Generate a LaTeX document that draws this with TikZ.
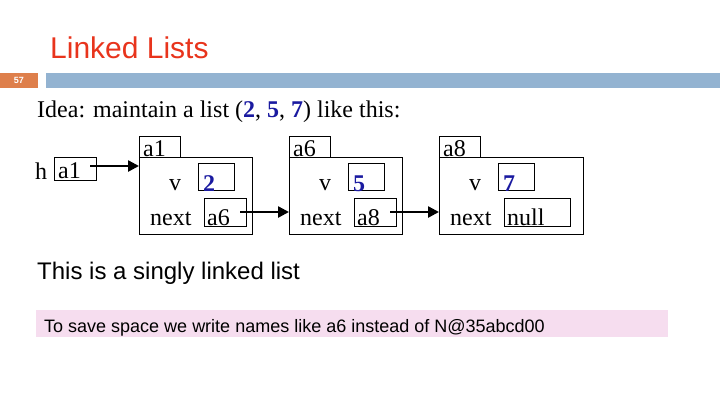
\documentclass[tikz,border=0pt]{standalone}
\usepackage{fontspec}
\setmainfont{Liberation Serif}
\setsansfont{Liberation Sans}
\usetikzlibrary{arrows.meta}
\definecolor{hdr}{HTML}{E8341C}
\definecolor{orng}{HTML}{DE7F4B}
\definecolor{bar}{HTML}{93B3D1}
\definecolor{pnk}{HTML}{F6DDEF}
\definecolor{numb}{HTML}{1A1AA0}
\tikzset{x=1pt,y=-1pt,
 lab/.style={font=\fontsize{24}{24}\selectfont,inner sep=0pt},
 num/.style={font=\fontsize{24}{24}\selectfont\bfseries,text=numb,inner sep=0pt},
 ptr/.style={line width=2.5pt,-{Triangle[length=11pt,width=11pt]}}}
\begin{document}
\begin{tikzpicture}
\useasboundingbox (0,0) rectangle (720,405);
\node[font=\sffamily\fontsize{30}{30}\selectfont,text=hdr,anchor=base west,inner sep=0pt] (title) at (50,58) {Linked Lists};
\fill[orng] (0,73) rectangle (38,88);
\node[font=\sffamily\bfseries\fontsize{9}{9}\selectfont,text=white] (pg) at (19,80.5) {57};
\fill[bar] (46,73) rectangle (720,88);
\node[font=\fontsize{24}{24}\selectfont,anchor=base west,inner sep=0pt] (idea) at (37,117) {Idea: maintain a list (\textcolor{numb}{\textbf{2}}, \textcolor{numb}{\textbf{5}}, \textcolor{numb}{\textbf{7}}) like this:};
% h
\node[lab,anchor=base west] (h) at (35,179) {h};
\draw[line width=0.8pt] (54,157) rectangle (96,180);
\node[lab,anchor=base west] (ha) at (58,178) {a1};
\coordinate (hs) at (90,166);
% objects
\foreach \ox/\nm/\val/\nx/\nw/\bw in {139/a1/2/a6/42/113, 289/a6/5/a8/42/113, 439/a8/7/null/66/144}{
  \draw[line width=0.8pt] (\ox,136) rectangle ++(41,21);
  \node[lab,anchor=base west] at (\ox+4,156) {\nm};
  \draw[line width=0.8pt] (\ox,157) rectangle ++(\bw,77);
  \node[lab,anchor=base west] at (\ox+30,190) {v};
  \draw[line width=0.8pt] (\ox+59,163) rectangle ++(36,27);
  \node[num,anchor=base west] at (\ox+64,191) {\val};
  \node[lab,anchor=base west] at (\ox+11,225) {next};
  \draw[line width=0.8pt] (\ox+65,198) rectangle ++(\nw,28);
  \node[lab,anchor=base west] at (\ox+68,225) {\nx};
}
\coordinate (o1) at (139,166); \coordinate (o2) at (289,212); \coordinate (o3) at (439,212);
\coordinate (s1) at (240,212); \coordinate (s2) at (390,212);
\draw[ptr] (hs) -- (o1);
\draw[ptr] (s1) -- (o2);
\draw[ptr] (s2) -- (o3);
\node[font=\sffamily\fontsize{24}{24}\selectfont,anchor=base west,inner sep=0pt] (single) at (37,279) {This is a singly linked list};
\fill[pnk] (36,310) rectangle (668,337);
\node[font=\sffamily\fontsize{18}{18}\selectfont,anchor=base west,inner sep=0pt] (note) at (44,332) {To save space we write names like a6 instead of N@35abcd00};
\end{tikzpicture}
\end{document}
